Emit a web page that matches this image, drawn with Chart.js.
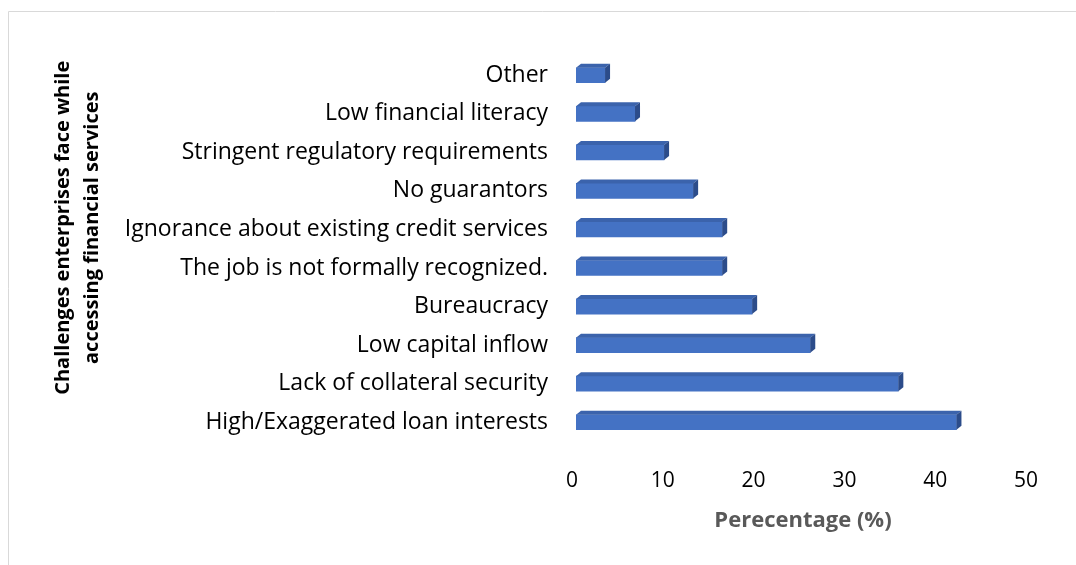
<!DOCTYPE html>
<html>
<head>
<meta charset="utf-8">
<script src="https://cdn.jsdelivr.net/npm/chart.js@4.4.1/dist/chart.umd.min.js"></script>
<style>
  html, body { margin: 0; padding: 0; background: #ffffff; }
  canvas { display: block; }
</style>
</head>
<body>
<canvas id="chart" width="1076" height="565"></canvas>
<script>
// Challenges, listed top to bottom
const challenges = [
  'Other',
  'Low financial literacy',
  'Stringent regulatory requirements',
  'No guarantors',
  'Ignorance about existing credit services',
  'The job is not formally recognized.',
  'Bureaucracy',
  'Low capital inflow',
  'Lack of collateral security',
  'High/Exaggerated loan interests'
];

// Share of enterprises reporting each challenge (%)
const percentages = [3.2, 6.5, 9.7, 12.9, 16.1, 16.1, 19.4, 25.8, 35.5, 41.9];

// Value axis
const xMin = 0;
const xMax = 50;
const xStep = 10;

const xTitle = 'Perecentage (%)';
const yTitleLines = ['Challenges enterprises face while', 'accessing financial services'];

const FONT = "'Open Sans', 'DejaVu Sans', sans-serif";
const FRONT = '#4472c4';
const TOP_FACE = '#3b63ac';
const SIDE_FACE = '#2c4c8a';
const DEPTH_X = 5;
const DEPTH_Y = 4;

// Thin light frame around the chart
const framePlugin = {
  id: 'frame',
  beforeDraw(chart) {
    const ctx = chart.ctx;
    ctx.save();
    ctx.strokeStyle = '#d9d9d9';
    ctx.lineWidth = 1;
    ctx.beginPath();
    ctx.moveTo(8.5, chart.height);
    ctx.lineTo(8.5, 11.5);
    ctx.lineTo(chart.width, 11.5);
    ctx.stroke();
    ctx.restore();
  }
};

// Top and right faces that give each bar its extruded look
const bar3dPlugin = {
  id: 'bar3d',
  afterDatasetsDraw(chart) {
    const ctx = chart.ctx;
    chart.getDatasetMeta(0).data.forEach(bar => {
      const { x, y, base, height } = bar.getProps(['x', 'y', 'base', 'height'], true);
      const top = y - height / 2;
      const bottom = y + height / 2;
      ctx.save();
      ctx.fillStyle = TOP_FACE;
      ctx.beginPath();
      ctx.moveTo(base, top);
      ctx.lineTo(x, top);
      ctx.lineTo(x + DEPTH_X, top - DEPTH_Y);
      ctx.lineTo(base + DEPTH_X, top - DEPTH_Y);
      ctx.closePath();
      ctx.fill();
      ctx.fillStyle = SIDE_FACE;
      ctx.beginPath();
      ctx.moveTo(x, top);
      ctx.lineTo(x + DEPTH_X, top - DEPTH_Y);
      ctx.lineTo(x + DEPTH_X, bottom - DEPTH_Y);
      ctx.lineTo(x, bottom);
      ctx.closePath();
      ctx.fill();
      ctx.restore();
    });
  }
};

// Two-line rotated title for the category axis
const yTitlePlugin = {
  id: 'yTitle',
  afterDraw(chart) {
    const ctx = chart.ctx;
    const cy = (chart.chartArea.top + chart.chartArea.bottom) / 2 - 21;
    ctx.save();
    ctx.fillStyle = '#000000';
    ctx.font = "bold 20px " + FONT;
    ctx.textAlign = 'center';
    ctx.textBaseline = 'alphabetic';
    const baselines = [69, 98];
    yTitleLines.forEach((line, i) => {
      ctx.save();
      ctx.translate(baselines[i], cy);
      ctx.rotate(-Math.PI / 2);
      ctx.fillText(line, 0, 0);
      ctx.restore();
    });
    ctx.restore();
  }
};

new Chart(document.getElementById('chart'), {
  type: 'bar',
  data: {
    labels: challenges,
    datasets: [{
      data: percentages,
      backgroundColor: FRONT,
      borderWidth: 0,
      barThickness: 15
    }]
  },
  options: {
    indexAxis: 'y',
    responsive: false,
    animation: false,
    devicePixelRatio: 1,
    layout: { padding: { top: 56, right: 46, bottom: 0, left: 0 } },
    plugins: {
      legend: { display: false },
      tooltip: { enabled: false }
    },
    scales: {
      x: {
        min: xMin,
        max: xMax,
        grid: { display: false, drawTicks: false },
        border: { display: false },
        ticks: {
          stepSize: xStep,
          padding: 27,
          labelOffset: -4,
          color: '#000000',
          font: { family: FONT, size: 21 }
        },
        title: {
          display: true,
          text: xTitle,
          color: '#595959',
          font: { family: FONT, size: 22, weight: 'bold' },
          padding: { top: 0, bottom: 31 }
        },
        afterFit(scale) { scale.height = 123.5; }
      },
      y: {
        grid: { display: false, drawTicks: false },
        border: { display: false },
        ticks: {
          padding: 28,
          color: '#000000',
          font: { family: FONT, size: 23 }
        },
        afterFit(scale) { scale.width = 576; }
      }
    }
  },
  plugins: [framePlugin, bar3dPlugin, yTitlePlugin]
});
</script>
</body>
</html>
